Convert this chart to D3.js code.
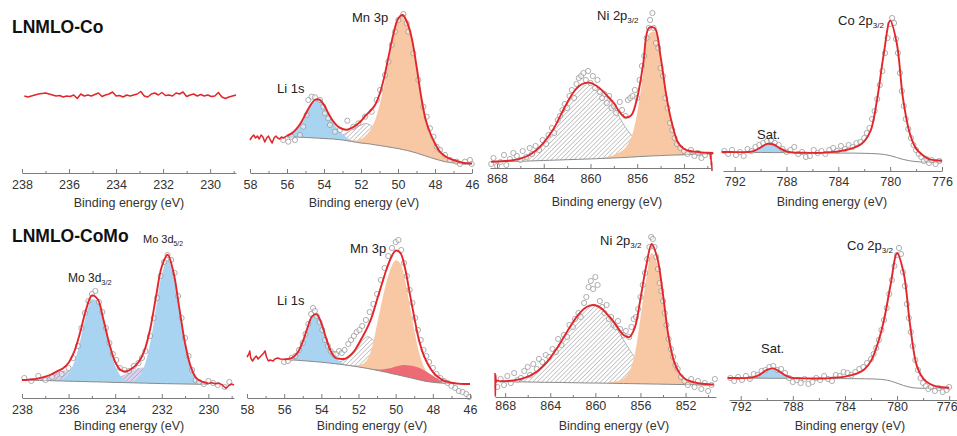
<!DOCTYPE html>
<html>
<head>
<meta charset="utf-8">
<script src="https://cdn.jsdelivr.net/npm/d3@7"></script>
<style>
  body { margin: 0; background: #fff; }
  svg { display: block; }
  text { font-family: "Liberation Sans", Arial, sans-serif; }
</style>
</head>
<body>
<svg id="chart" width="957" height="436"></svg>
<script>
"use strict";

// ---------- data (intensity in a.u.) ----------

// tick values
const moTicks = [238, 236, 234, 232, 230];
const moMinor = [237, 235, 233, 231, 229];
const liTicks = [58, 56, 54, 52, 50, 48, 46];
const liMinor = [57, 55, 53, 51, 49, 47];
const niTicks = [868, 864, 860, 856, 852];
const niMinor = [866, 862, 858, 854, 850];
const coTicks = [792, 788, 784, 780, 776];
const coMinor = [790, 786, 782, 778];

// LNMLO-Co, Mo 3d region: no signal, raw trace only
const moCoE = d3.range(237.9, 228.89, -0.15);
const moCoRaw = [77, 76, 77, 78, 79, 79.5, 80, 79, 78, 77,
  77.5, 76, 77, 76.5, 78, 74.5, 79, 77, 78, 77,
  78.5, 80, 76.5, 78, 79, 81, 77, 77.5, 76, 78,
  77, 78, 79, 81.5, 77, 76, 79, 80, 78, 80.5,
  77.5, 78, 77, 80, 79, 81, 76.5, 78, 79, 77,
  78.5, 77, 78, 76.5, 77, 80.5, 76, 74.5, 76, 77,
  78];

// LNMLO-Co, Li 1s / Mn 3p
const liCoE = d3.range(56, 45.999, -0.25);
const liCoBg = [36, 36, 36, 35.8, 35.5, 35.3, 35, 34.8, 34.5, 34.2,
  34, 33.5, 33, 32.3, 31.5, 30.7, 30, 29.5, 29, 28.2,
  27.5, 26.8, 26, 25.2, 24.5, 23.5, 22.5, 21.3, 20, 18.5,
  17, 15.5, 14, 12.7, 11.5, 10.7, 10, 9.5, 9, 9, 9];
const liCoLi = [1.4, 3.6, 7.8, 14.5, 23.3, 32, 38, 38.5, 33.6, 25,
  16.1, 10, 6, 3, 1.2, 0.4, 0, 0, 0, 0,
  0, 0, 0, 0, 0, 0, 0, 0, 0, 0,
  0, 0, 0, 0, 0, 0, 0, 0, 0, 0, 0];
const liCoX = [0, 0, 0, 0, 0, 0, 0, 0, 0, 0,
  1.5, 3, 5, 8, 11.5, 15, 18, 20, 19, 15.6,
  11, 6.6, 3.4, 1.5, 0.6, 0, 0, 0, 0, 0,
  0, 0, 0, 0, 0, 0, 0, 0, 0, 0, 0];
const liCoMn = [0, 0, 0, 0, 0, 0, 0, 0, 0, 0,
  0, 0, 0, 0, 1, 2, 4, 8, 14, 24,
  40, 62, 88, 112, 129, 134.5, 128, 113, 87, 58,
  36, 24, 15.5, 9, 6, 4, 3, 2, 1.2, 0.8, 0.5];
const liCoRaw = [[58, 33], [57.9, 36], [57.8, 38], [57.7, 35], [57.6, 37], [57.5, 34], [57.4, 38],
  [57.3, 36], [57.2, 31], [57.1, 35], [57.0, 37], [56.9, 33], [56.8, 30], [56.7, 35], [56.6, 37],
  [56.5, 35], [56.4, 34], [56.3, 36], [56.2, 35], [56.1, 36], [56.0, 37.4]];
const liCoPts = [[56.2, 33], [55.93, 31.3], [55.75, 36.3], [55.57, 33], [55.3, 38], [55.12, 46.3],
  [54.94, 58], [54.85, 73], [54.67, 76.3], [54.49, 75.7], [54.22, 73], [54.04, 66.3], [53.95, 59.7],
  [53.77, 54.7], [53.68, 48], [53.41, 41.3], [53.14, 43], [52.74, 52.3], [52.41, 46.3], [52.14, 49.7],
  [51.78, 56.3], [51.42, 61.3], [51.15, 73], [50.97, 83], [50.7, 98], [50.52, 111.3], [50.34, 128],
  [50.16, 141.3], [49.98, 153], [49.71, 159], [49.53, 149.7], [49.44, 141.3], [49.17, 119.7],
  [48.9, 93], [48.63, 66.3], [48.45, 56.3], [48.27, 44.7], [48.09, 36.3], [47.91, 26.3], [47.73, 23],
  [47.46, 18], [47.19, 13], [46.83, 11.3], [46.65, 9], [46.38, 11.3], [46.11, 13], [46.02, 9]];

// LNMLO-Co, Ni 2p3/2
const niCoE = d3.range(868.5, 849.49, -0.5);
const niCoBg = [6.2, 6.3, 6.4, 6.5, 6.6, 6.7, 6.9, 7.1, 7.3, 7.5,
  7.7, 7.9, 8.1, 8.3, 8.5, 8.7, 8.9, 9.1, 9.3, 9.6,
  9.8, 10, 10.3, 10.6, 10.9, 11.3, 11.6, 11.9, 12.2, 12.4,
  12.7, 12.9, 13.1, 13.3, 13.5, 13.7, 13.8, 13.9, 14];
const niCoSat = [0.1, 0.2, 0.5, 0.8, 1.5, 2.7, 4.6, 7.7, 12, 17.9,
  25.5, 34.5, 46, 57, 66.5, 73, 76, 76, 73, 68,
  60, 52, 40, 30, 22, 15, 9.5, 6, 3.5, 2,
  1, 0.5, 0.2, 0, 0, 0, 0, 0, 0];
const niCoMain = [0, 0, 0, 0, 0, 0, 0, 0, 0, 0,
  0, 0, 0, 0, 0, 0, 0, 0, 0, 0,
  1.5, 3, 5.5, 10, 20, 44, 82, 122, 124, 97,
  58, 30, 12, 6, 3.5, 2.5, 1.8, 1.3, 1];
const niCoRaw = [[849.5, 15], [849.75, 14], [849.72, 9], [849.69, 13], [849.66, 3], [849.63, 6], [849.6, -3]];
const niCoPts = [[868.5, 4], [868.3, 10], [868, 2], [867.7, 6], [867.4, 13], [867.2, 3], [866.9, 9],
  [866.6, 15], [866.3, 12], [866.0, 8], [865.8, 17], [865.5, 11], [865.2, 20], [865, 14], [864.7, 22],
  [864.4, 18], [864.1, 28], [863.8, 24], [863.6, 33], [863.3, 40], [863.1, 35], [862.8, 48], [862.6, 52],
  [862.4, 58], [862.2, 64], [862.0, 60], [861.8, 72], [861.6, 78], [861.4, 70], [861.2, 84], [861.0, 90],
  [860.8, 92], [860.6, 95], [860.4, 88], [860.2, 97], [860.0, 85], [859.8, 92], [859.6, 80], [859.4, 88],
  [859.2, 76], [859.0, 70], [858.8, 74], [858.6, 65], [858.4, 72], [858.2, 60], [858.0, 62], [857.8, 55],
  [857.5, 66], [857.3, 58], [857.0, 52], [856.8, 68], [856.6, 70], [856.4, 72], [856.2, 78], [856.0, 70],
  [855.8, 88], [855.6, 102], [855.4, 112], [855.2, 130], [855.0, 140], [854.9, 148], [854.7, 155],
  [854.6, 140], [854.4, 125], [854.2, 120], [854.0, 100], [853.8, 92], [853.6, 70], [853.4, 60],
  [853.2, 45], [853.0, 38], [852.8, 30], [852.6, 24], [852.3, 20], [852.0, 17], [851.7, 14], [851.4, 18],
  [851.1, 12], [850.8, 15], [850.5, 10], [850.2, 13]];

// LNMLO-Co, Co 2p3/2
const coCoE = d3.range(793, 775.99, -0.5);
const coCoBg = [19, 19, 18.9, 18.8, 18.7, 18.6, 18.5, 18.5, 18.4, 18.4,
  18.3, 18.3, 18.2, 18.2, 18.1, 18.1, 18, 18, 18, 17.9,
  17.9, 17.8, 17.7, 17.5, 17.2, 16.6, 15.4, 13.5, 11.6, 10.2,
  9.4, 9, 8.8, 8.7, 8.7];
const coCoSat = [0, 0, 0, 0.1, 0.3, 1.6, 5, 8.6, 8.1, 4.2,
  1.2, 0.2, 0, 0, 0, 0, 0, 0, 0, 0,
  0, 0, 0, 0, 0, 0, 0, 0, 0, 0,
  0, 0, 0, 0, 0];
const coCoMain = [0, 0, 0, 0, 0, 0, 0, 0, 0, 0,
  0, 0, 0, 0, 0, 0, 0.5, 1, 1.5, 3,
  4.5, 7, 12, 23, 55, 100, 135, 115, 60, 28,
  13, 7, 3, 2, 1.5];
const coCoPts = [[792.8, 20], [792.5, 17], [792.2, 21], [791.9, 16], [791.6, 19], [791.3, 15], [791.0, 22],
  [790.7, 20], [790.4, 24], [790.1, 26], [789.8, 28], [789.5, 30], [789.2, 31], [788.9, 28], [788.6, 26],
  [788.3, 22], [788.0, 19], [787.7, 21], [787.4, 24], [787.1, 17], [786.8, 19], [786.5, 14], [786.2, 15],
  [785.9, 21], [785.6, 18], [785.3, 20], [785.0, 17], [784.7, 21], [784.4, 23], [784.1, 20], [783.8, 25],
  [783.5, 22], [783.2, 26], [782.9, 24], [782.6, 28], [782.3, 29], [782.0, 33], [781.8, 38], [781.6, 43],
  [781.4, 52], [781.2, 60], [781.0, 72], [780.8, 86], [780.6, 100], [780.4, 118], [780.2, 133],
  [780.0, 147], [779.85, 153], [779.7, 148], [779.55, 132], [779.4, 118], [779.25, 98], [779.1, 80],
  [778.95, 65], [778.8, 52], [778.6, 42], [778.4, 33], [778.2, 26], [778.0, 21], [777.8, 17], [777.6, 14],
  [777.4, 10], [777.2, 12], [777.0, 8], [776.8, 11], [776.5, 7], [776.2, 10]];

// LNMLO-CoMo, Mo 3d
const moMoE = d3.range(238, 229.99, -0.25);
const moMoBg = [18, 17.9, 17.7, 17.6, 17.4, 17.3, 17.1, 17, 16.8, 16.7,
  16.5, 16.4, 16.2, 16.1, 15.9, 15.8, 15.6, 15.5, 15.3, 15.2,
  15, 14.9, 14.7, 14.6, 14.4, 14.3, 14.2, 14.1, 14, 13.9,
  13.8, 13.7, 13.6];
const moMoP1 = [0, 0.4, 1.1, 2.3, 4, 6.2, 8.5, 10.3, 11, 10.3,
  8.5, 6.2, 4, 2.3, 1.1, 0.5, 0.2, 0, 0, 0,
  0, 0, 0, 0, 0, 0, 0, 0, 0, 0,
  0, 0, 0];
const moMoP2 = [0, 0, 0, 0, 0, 0, 0, 0, 0, 0,
  0, 0, 0, 0, 0, 1.8, 3.6, 6.2, 9.4, 12.6,
  14.9, 15.5, 14.1, 11.4, 8.1, 5, 2.8, 1.3, 0.6, 0.2,
  0, 0, 0];
const moMo32 = [0, 0, 0, 0, 0, 0, 1, 2.2, 7.5, 19.8,
  40.9, 65.8, 82.3, 80.3, 61, 36, 16.6, 6, 2, 0.8,
  0.3, 0, 0, 0, 0, 0, 0, 0, 0, 0,
  0, 0, 0];
const moMo52 = [0, 0, 0, 0, 0, 0, 0, 0, 0, 0,
  0, 0, 0, 0, 0, 0, 0, 0, 0, 1.4,
  5.5, 16.8, 40, 75, 109, 124, 109, 75, 40, 16.8,
  5.5, 2.5, 1];
const moMoRaw = [[230, 14.6], [229.85, 15.2], [229.7, 14.2], [229.55, 14.8], [229.4, 13], [229.25, 9.7],
  [229.12, 12.5], [229.0, 14], [228.9, 12.8]];
const moMoPts = [[237.9, 20], [237.6, 17], [237.3, 22], [237.0, 18], [236.7, 21], [236.3, 24], [236.0, 30],
  [235.8, 40], [235.6, 52], [235.45, 70], [235.3, 85], [235.15, 97], [235.0, 104], [234.85, 107],
  [234.7, 96], [234.55, 86], [234.4, 70], [234.25, 55], [234.1, 44], [233.95, 38], [233.8, 30],
  [233.6, 28], [233.4, 27], [233.2, 32], [233.0, 35], [232.85, 40], [232.7, 47], [232.5, 62],
  [232.35, 80], [232.2, 100], [232.05, 122], [231.9, 136], [231.75, 143], [231.6, 138], [231.45, 125],
  [231.3, 102], [231.15, 80], [231.0, 60], [230.85, 42], [230.7, 28], [230.55, 18], [230.4, 16],
  [230.2, 14], [230.0, 17], [229.8, 15], [229.6, 13], [229.3, 11], [229.1, 16]];

// LNMLO-CoMo, Li 1s / Mn 3p
const liMoE = d3.range(56, 45.999, -0.25);
const liMoBg = [38.5, 38.3, 38, 37.7, 37.3, 37, 36.6, 36.2, 35.8, 35.3,
  34.8, 34.3, 33.7, 33.1, 32.5, 31.8, 31.1, 30.3, 29.5, 28.6,
  27.7, 26.7, 25.7, 24.6, 23.6, 22.6, 21.5, 20.4, 19.3, 18.2,
  17.1, 16.3, 15.7, 15.2, 14.9, 14.6, 14.4, 14.2, 14.1, 14, 14];
const liMoLi = [0.2, 0.8, 3, 8.5, 19, 33, 45, 47.5, 39, 25,
  12.5, 6, 3, 1, 0.3, 0, 0, 0, 0, 0,
  0, 0, 0, 0, 0, 0, 0, 0, 0, 0,
  0, 0, 0, 0, 0, 0, 0, 0, 0, 0, 0];
const liMoX = [0, 0, 0, 0, 0, 0, 0, 0, 0, 0,
  0, 0, 2.5, 5, 8.5, 13.5, 21, 28, 31.8, 30,
  24, 16, 9, 4.2, 1.7, 0.6, 0, 0, 0, 0,
  0, 0, 0, 0, 0, 0, 0, 0, 0, 0, 0];
const liMoMn = [0, 0, 0, 0, 0, 0, 0, 0, 0, 0,
  0, 0, 0, 0, 0.5, 1, 2, 4, 10, 24,
  46, 69, 90, 106, 114, 112, 97, 73, 49, 28,
  15, 8, 4, 2, 1, 0.6, 0.4, 0.2, 0, 0, 0];
const liMoLow = [0, 0, 0, 0, 0, 0, 0, 0, 0, 0,
  0, 0, 0, 0, 0, 0, 0, 0, 0, 0.3,
  0.8, 1.8, 3.5, 5.5, 8, 10, 11.5, 12, 12.5, 12,
  11, 9, 6.5, 4.2, 2.3, 1.2, 0.5, 0.2, 0, 0, 0];
const liMoRaw = [[58, 41], [57.9, 44], [57.85, 47], [57.8, 40], [57.7, 37], [57.6, 40], [57.5, 42],
  [57.4, 39], [57.3, 41], [57.2, 43], [57.1, 45], [57.03, 47], [56.95, 41], [56.85, 37], [56.75, 38],
  [56.6, 37], [56.5, 39], [56.35, 40], [56.2, 39], [56.0, 38.7]];
const liMoPts = [[56.0, 36], [55.8, 37], [55.6, 40], [55.4, 42], [55.2, 48], [55.0, 55], [54.85, 64],
  [54.7, 74], [54.55, 84], [54.45, 90], [54.35, 87], [54.25, 82], [54.1, 76], [53.95, 68], [53.8, 58],
  [53.65, 52], [53.5, 47], [53.35, 44], [53.2, 44], [53.05, 47], [52.9, 45], [52.75, 48], [52.55, 54],
  [52.4, 58], [52.25, 62], [52.1, 66], [51.95, 68], [51.8, 72], [51.6, 78], [51.4, 86], [51.2, 94],
  [51.0, 104], [50.8, 118], [50.6, 130], [50.4, 142], [50.2, 150], [50.0, 156], [49.85, 158],
  [49.7, 148], [49.55, 135], [49.4, 122], [49.25, 108], [49.1, 95], [48.95, 80], [48.8, 68],
  [48.65, 58], [48.5, 48], [48.35, 42], [48.2, 36], [48.0, 30], [47.8, 24], [47.6, 20], [47.4, 17],
  [47.2, 15], [47.0, 12], [46.8, 10], [46.6, 7], [46.4, 6], [46.2, 4], [46.05, 1]];

// LNMLO-CoMo, Ni 2p3/2
const niMoE = d3.range(868.5, 849.49, -0.5);
const niMoBg = [15.4, 15.3, 15.2, 15.2, 15.1, 15, 14.9, 14.8, 14.7, 14.6,
  14.6, 14.5, 14.4, 14.3, 14.2, 14.1, 14, 14, 13.9, 13.8,
  13.7, 13.6, 13.5, 13.4, 13.3, 13.2, 13.1, 13, 12.9, 12.8,
  12.7, 12.6, 12.5, 12.4, 12.3, 12.2, 12.1, 12, 12];
const niMoSat = [0.3, 0.6, 1.1, 1.9, 3.3, 5.3, 8.2, 12.3, 17.8, 24.6,
  32.6, 41.6, 51.1, 60.2, 68.1, 74.1, 77.4, 77.8, 75, 69.5,
  61.9, 53, 43.5, 34.4, 26.1, 19, 13.3, 9, 5.8, 3.6,
  2.2, 1.3, 0.7, 0.4, 0.2, 0.1, 0, 0, 0];
const niMoMain = [0, 0, 0, 0, 0, 0, 0, 0, 0, 0,
  0, 0, 0, 0, 0, 0, 0, 0, 0, 0,
  1.5, 2.5, 5, 12, 30, 66, 104, 131, 120, 86,
  45, 21, 10, 5, 3, 1.8, 1.2, 0.8, 0.5];
const niMoRaw = [[868.9, 24], [868.87, 1], [868.84, 22], [868.8, 15], [868.7, 16.5], [868.5, 15.7]];
const niMoPts = [[868.7, 10], [868.4, 18], [868.1, 12], [867.8, 21], [867.5, 14], [867.2, 24], [866.9, 17],
  [866.6, 19], [866.3, 26], [866.0, 30], [865.8, 22], [865.5, 33], [865.2, 28], [865.0, 38], [864.7, 35],
  [864.4, 42], [864.1, 40], [863.8, 48], [863.5, 45], [863.3, 58], [863.0, 52], [862.8, 62], [862.5, 60],
  [862.3, 72], [862.0, 70], [861.8, 78], [861.5, 84], [861.3, 80], [861.0, 94], [860.8, 100],
  [860.6, 110], [860.4, 116], [860.2, 108], [860.0, 120], [859.8, 112], [859.6, 96], [859.4, 90],
  [859.2, 84], [859.0, 92], [858.8, 78], [858.6, 80], [858.4, 72], [858.2, 70], [858.0, 76],
  [857.8, 68], [857.5, 62], [857.3, 66], [857.0, 60], [856.8, 70], [856.6, 78], [856.4, 80],
  [856.2, 88], [856.0, 100], [855.8, 112], [855.6, 124], [855.4, 138], [855.2, 150], [855.05, 160],
  [854.9, 158], [854.75, 150], [854.6, 140], [854.45, 128], [854.3, 114], [854.15, 106], [854.0, 96],
  [853.85, 84], [853.7, 72], [853.5, 58], [853.3, 48], [853.1, 40], [852.9, 32], [852.7, 28],
  [852.4, 20], [852.1, 16], [851.8, 12], [851.5, 18], [851.2, 10], [850.9, 16], [850.6, 8], [850.3, 14],
  [850.0, 6], [849.7, 12], [849.4, 18]];

// LNMLO-CoMo, Co 2p3/2
const coMoE = d3.range(793, 775.99, -0.5);
const coMoBg = [22, 22, 21.9, 21.9, 21.8, 21.8, 21.8, 21.7, 21.7, 21.7,
  21.6, 21.6, 21.6, 21.5, 21.5, 21.5, 21.4, 21.4, 21.4, 21.3,
  21.3, 21.2, 21.1, 20.8, 20.3, 19, 16.8, 14.5, 12.8, 11.9,
  11.7, 11.7, 11.7, 11.7, 11.7];
const coMoSat = [0, 0, 0, 0.2, 1, 3.8, 8.3, 9.9, 6.5, 2.4,
  0.5, 0.1, 0, 0, 0, 0, 0, 0, 0, 0,
  0, 0, 0, 0, 0, 0, 0, 0, 0, 0,
  0, 0, 0, 0, 0];
const coMoMain = [0, 0, 0, 0, 0, 0, 0, 0, 0, 0,
  0, 0, 0, 0, 0, 0, 0.8, 1.2, 2, 3.5,
  5.5, 9.5, 18, 35, 60, 96, 130, 113, 62, 23,
  10, 4.5, 2, 1, 0.5];
const coMoPts = [[792.8, 22], [792.5, 19], [792.2, 23], [791.9, 20], [791.6, 24], [791.3, 21], [791.0, 26],
  [790.7, 25], [790.4, 29], [790.1, 30], [789.8, 33], [789.5, 34], [789.2, 30], [788.9, 31], [788.6, 27],
  [788.3, 22], [788.0, 18], [787.7, 20], [787.4, 17], [787.1, 21], [786.8, 16], [786.5, 18], [786.2, 22],
  [785.9, 20], [785.6, 24], [785.3, 21], [785.0, 19], [784.7, 25], [784.4, 24], [784.1, 28], [783.8, 27],
  [783.5, 25], [783.2, 28], [782.9, 31], [782.6, 33], [782.3, 37], [782.0, 41], [781.8, 46], [781.6, 52],
  [781.4, 60], [781.2, 70], [781.0, 80], [780.8, 92], [780.6, 106], [780.4, 120], [780.2, 134],
  [780.0, 145], [779.85, 152], [779.7, 146], [779.55, 128], [779.4, 114], [779.25, 96], [779.1, 82],
  [778.95, 68], [778.8, 54], [778.6, 40], [778.4, 30], [778.2, 22], [778.0, 17], [777.8, 14], [777.6, 11],
  [777.4, 13], [777.1, 9], [776.8, 12], [776.5, 8], [776.2, 10], [776.0, 13]];

// ---------- styling ----------
const RED = "#e3262b";
const AXIS = "#7c7c7c";
const BLUE = "#a8d4f1";
const ORANGE = "#f8c8a4";
const PINK = "#ee6b76";

const svg = d3.select("#chart");
const defs = svg.append("defs");

function makeHatch(id, lineColor, bgColor) {
  const p = defs.append("pattern")
    .attr("id", id)
    .attr("patternUnits", "userSpaceOnUse")
    .attr("width", 3.2)
    .attr("height", 3.2)
    .attr("patternTransform", "rotate(45)");
  p.append("rect").attr("width", 3.2).attr("height", 3.2).attr("fill", bgColor);
  p.append("line")
    .attr("x1", 0).attr("y1", 0).attr("x2", 0).attr("y2", 3.2)
    .attr("stroke", lineColor).attr("stroke-width", 0.9);
}
makeHatch("hatchGray", "#8c8c8c", "#ffffff");
makeHatch("hatchPurple", "#8a84b0", "#d9d5ec");

const panels = [
  { domain: [238, 228.9], range: [22, 236], axisY: 173, pad: 7, titleX: 129, titleY: 207,
    majors: moTicks, minors: moMinor, traces: [moCoE.map((e, i) => [e, moCoRaw[i]])], points: [] },
  { domain: [58, 46], range: [250, 472], axisY: 173, pad: 7, titleX: 364, titleY: 207,
    majors: liTicks, minors: liMinor, grid: liCoE, bg: liCoBg,
    comps: [{ vals: liCoX, fill: "url(#hatchGray)", edge: "#999" },
            { vals: liCoLi, fill: BLUE },
            { vals: liCoMn, fill: ORANGE }],
    traces: [liCoRaw], points: liCoPts },
  { domain: [868.6, 849.6], range: [490, 712], axisY: 168, pad: 6, titleX: 607, titleY: 206,
    majors: niTicks, minors: niMinor, grid: niCoE, bg: niCoBg,
    comps: [{ vals: niCoSat, fill: "url(#hatchGray)", edge: "#999" },
            { vals: niCoMain, fill: ORANGE }],
    traces: [niCoRaw], points: niCoPts },
  { domain: [792.9, 776], range: [723, 942], axisY: 171, pad: 6, titleX: 832, titleY: 206,
    majors: coTicks, minors: coMinor, grid: coCoE, bg: coCoBg,
    comps: [{ vals: coCoSat, fill: BLUE },
            { vals: coCoMain, fill: "none" }],
    traces: [], points: coCoPts },
  { domain: [238, 228.9], range: [22, 234], axisY: 398, pad: 7, titleX: 129, titleY: 430,
    majors: moTicks, minors: moMinor, grid: moMoE, bg: moMoBg,
    comps: [{ vals: moMoP1, fill: "url(#hatchPurple)" },
            { vals: moMoP2, fill: "url(#hatchPurple)" },
            { vals: moMo32, fill: BLUE },
            { vals: moMo52, fill: BLUE }],
    traces: [moMoRaw], points: moMoPts },
  { domain: [58, 46], range: [247, 470], axisY: 398, pad: 7, titleX: 372, titleY: 430,
    majors: liTicks, minors: liMinor, grid: liMoE, bg: liMoBg,
    comps: [{ vals: liMoX, fill: "url(#hatchGray)", edge: "#999" },
            { vals: liMoLi, fill: BLUE },
            { vals: liMoMn, fill: ORANGE },
            { vals: liMoLow, fill: PINK }],
    traces: [liMoRaw], points: liMoPts },
  { domain: [868.9, 849.3], range: [495, 716], axisY: 397, pad: 4, titleX: 614, titleY: 430,
    majors: niTicks, minors: niMinor, grid: niMoE, bg: niMoBg,
    comps: [{ vals: niMoSat, fill: "url(#hatchGray)", edge: "#999" },
            { vals: niMoMain, fill: ORANGE }],
    traces: [niMoRaw], points: niMoPts },
  { domain: [792.9, 775.4], range: [729, 957], axisY: 400, pad: 2, titleX: 850, titleY: 430,
    majors: coTicks, minors: coMinor, grid: coMoE, bg: coMoBg,
    comps: [{ vals: coMoSat, fill: BLUE },
            { vals: coMoMain, fill: "none" }],
    traces: [], points: coMoPts, lastEnd: true }
];

const labels = [
  { x: 12, y: 33, t: "LNMLO-Co", bold: true, size: 17.5 },
  { x: 12, y: 242, t: "LNMLO-CoMo", bold: true, size: 17.5 },
  { x: 277, y: 93, t: "Li 1s", size: 13 },
  { x: 352, y: 22, t: "Mn 3p", size: 13 },
  { x: 597, y: 20, t: "Ni 2p", sub: "3/2", size: 13 },
  { x: 838, y: 25, t: "Co 2p", sub: "3/2", size: 13 },
  { x: 757, y: 139, t: "Sat.", size: 13 },
  { x: 143, y: 243, t: "Mo 3d", sub: "5/2", size: 11 },
  { x: 68, y: 282, t: "Mo 3d", sub: "3/2", size: 12 },
  { x: 277, y: 305, t: "Li 1s", size: 13 },
  { x: 350, y: 253, t: "Mn 3p", size: 13 },
  { x: 600, y: 245, t: "Ni 2p", sub: "3/2", size: 13 },
  { x: 847, y: 250, t: "Co 2p", sub: "3/2", size: 13 },
  { x: 761, y: 353, t: "Sat.", size: 13 }
];

// ---------- drawing ----------
const curve = d3.curveCatmullRom.alpha(0.5);

function drawPanel(p) {
  const x = d3.scaleLinear().domain(p.domain).range(p.range);
  const y = d3.scaleLinear().domain([0, 170]).range([p.axisY, p.axisY - 170]);
  const g = svg.append("g");

  if (p.grid) {
    // fitted components, stacked on the background
    p.comps.forEach(c => {
      if (c.fill === "none") return;
      let idx = d3.range(p.grid.length)
        .filter(i => c.vals[i] > 0 || c.vals[i - 1] > 0 || c.vals[i + 1] > 0);
      let pts = idx.map(i => ({ e: p.grid[i], b: p.bg[i], t: p.bg[i] + c.vals[i] }));

      g.append("path")
        .datum(pts)
        .attr("d", d3.area().curve(curve).x(d => x(d.e)).y0(d => y(d.b)).y1(d => y(d.t)))
        .attr("fill", c.fill);

      if (c.edge) {
        g.append("path")
          .datum(pts)
          .attr("d", d3.line().curve(curve).x(d => x(d.e)).y(d => y(d.t)))
          .attr("fill", "none")
          .attr("stroke", c.edge)
          .attr("stroke-width", 0.7);
      }
    });

    // background line
    g.append("path")
      .datum(p.grid.map((e, i) => [e, p.bg[i]]))
      .attr("d", d3.line().curve(curve).x(d => x(d[0])).y(d => y(d[1])))
      .attr("fill", "none")
      .attr("stroke", "#8a8a8a")
      .attr("stroke-width", 1);
  }

  // measured points
  g.selectAll(".pt")
    .data(p.points)
    .enter().append("circle")
    .attr("class", "pt")
    .attr("cx", d => x(d[0]))
    .attr("cy", d => y(d[1]))
    .attr("r", 2.6)
    .attr("fill", "#fff")
    .attr("fill-opacity", 0.45)
    .attr("stroke", "#9a9a9a")
    .attr("stroke-width", 0.8);

  // envelope = background + all components
  if (p.grid) {
    let env = p.grid.map((e, i) => [e, p.bg[i] + d3.sum(p.comps, c => c.vals[i])]);
    g.append("path")
      .datum(env)
      .attr("d", d3.line().curve(curve).x(d => x(d[0])).y(d => y(d[1])))
      .attr("fill", "none")
      .attr("stroke", RED)
      .attr("stroke-width", 1.9);
  }

  // raw trace segments
  p.traces.forEach(tr => {
    g.append("path")
      .datum(tr)
      .attr("d", d3.line().x(d => x(d[0])).y(d => y(d[1])))
      .attr("fill", "none")
      .attr("stroke", RED)
      .attr("stroke-width", 1.5)
      .attr("stroke-linejoin", "round");
  });

  // axis with inward ticks
  let ax = g.append("g")
    .attr("transform", "translate(0," + p.axisY + ")")
    .call(d3.axisBottom(x).tickValues(p.majors).tickSize(-4).tickSizeOuter(0)
      .tickPadding(p.pad).tickFormat(d3.format("d")))
    .attr("font-size", null)
    .attr("font-family", null);
  ax.select(".domain").attr("stroke", AXIS);
  ax.selectAll(".tick line").attr("stroke", AXIS);
  ax.selectAll(".tick text")
    .attr("fill", "#333")
    .style("font-size", "12.5px");

  if (p.lastEnd) {
    // keep the last label inside the picture
    ax.selectAll(".tick text")
      .filter(d => d === p.majors[p.majors.length - 1])
      .attr("text-anchor", "end")
      .attr("dx", 8);
  }

  g.append("g")
    .attr("transform", "translate(0," + p.axisY + ")")
    .call(d3.axisBottom(x).tickValues(p.minors).tickSize(-2).tickFormat(""))
    .call(a => a.select(".domain").remove())
    .selectAll(".tick line").attr("stroke", AXIS);

  g.append("text")
    .attr("x", p.titleX)
    .attr("y", p.titleY)
    .attr("text-anchor", "middle")
    .attr("fill", "#333")
    .style("font-size", "12.5px")
    .text("Binding energy (eV)");
}

panels.forEach(drawPanel);

labels.forEach(l => {
  let t = svg.append("text")
    .attr("x", l.x)
    .attr("y", l.y)
    .attr("fill", l.bold ? "#111" : "#222")
    .style("font-size", l.size + "px")
    .style("font-weight", l.bold ? "bold" : "normal")
    .text(l.t);
  if (l.sub) {
    t.append("tspan")
      .attr("dy", l.size * 0.25)
      .style("font-size", (l.size * 0.62) + "px")
      .text(l.sub);
  }
});
</script>
</body>
</html>
